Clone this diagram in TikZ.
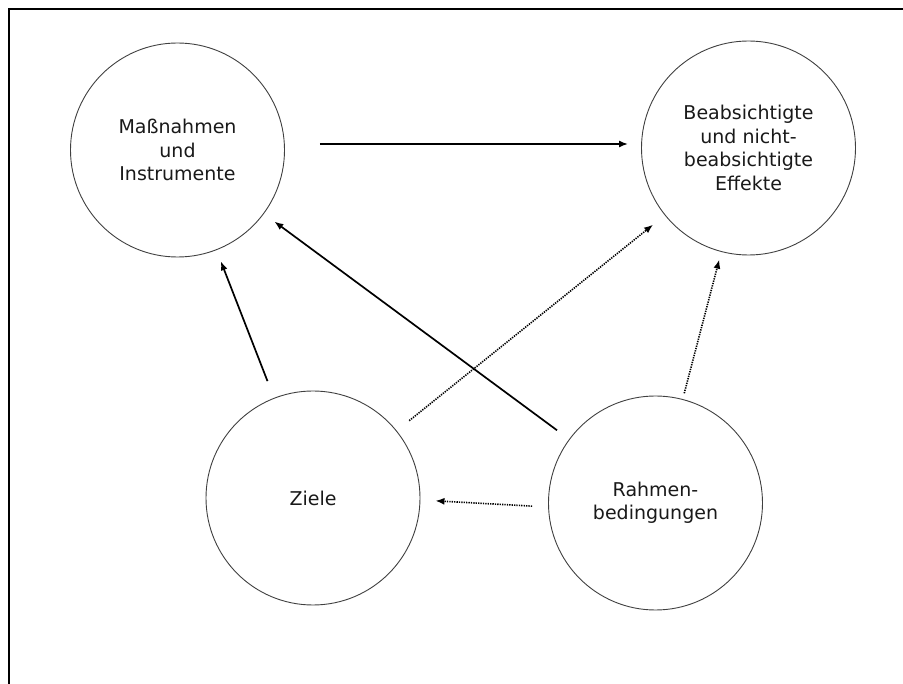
\documentclass[tikz,border=0pt]{standalone}
\usepackage{fontspec}
\setmainfont{DejaVu Sans}
\usetikzlibrary{arrows.meta}
\begin{document}
\begin{tikzpicture}[x=1pt,y=-1pt,
  circ/.style={circle,draw=black!75,line width=0.9pt,minimum size=214pt,inner sep=0pt,align=center,font=\fontsize{19}{23.5}\selectfont,text=black!90},
  solidarrow/.style={line width=1.7pt,-{Latex[length=9pt,width=7pt]}},
  dotarrow/.style={line width=1.6pt,dash pattern=on 1.3pt off 1.1pt,-{Latex[length=9pt,width=7pt]}}]
\useasboundingbox (0,0) rectangle (903,684);
\draw[line width=1.5pt] (9,684) -- (9,9) -- (903,9);
\node[circ] (M) at (177.5,150) {Maßnahmen\\und\\Instrumente};
\node[circ] (B) at (748.5,148) {Beabsichtigte\\und nicht-\\beabsichtigte\\Effekte};
\node[circ] (Z) at (313,498) {Ziele};
\node[circ] (R) at (655.5,503) {Rahmen-\\bedingungen};
\draw[solidarrow,shorten <=35pt,shorten >=13pt] ([yshift=6pt]M.east) -- ([yshift=4pt]B.west);
\draw[solidarrow,shorten <=18pt,shorten >=12pt] (Z) -- (M);
\draw[solidarrow,shorten <=15pt,shorten >=13pt] (R) -- (M);
\draw[dotarrow,shorten <=16pt,shorten >=15pt] (Z) -- (B);
\draw[dotarrow,shorten <=6pt,shorten >=8pt] (R) -- (B);
\draw[dotarrow,shorten <=16pt,shorten >=15pt] ([yshift=-4pt]R.west) -- ([yshift=-2pt]Z.east);
\end{tikzpicture}
\end{document}
